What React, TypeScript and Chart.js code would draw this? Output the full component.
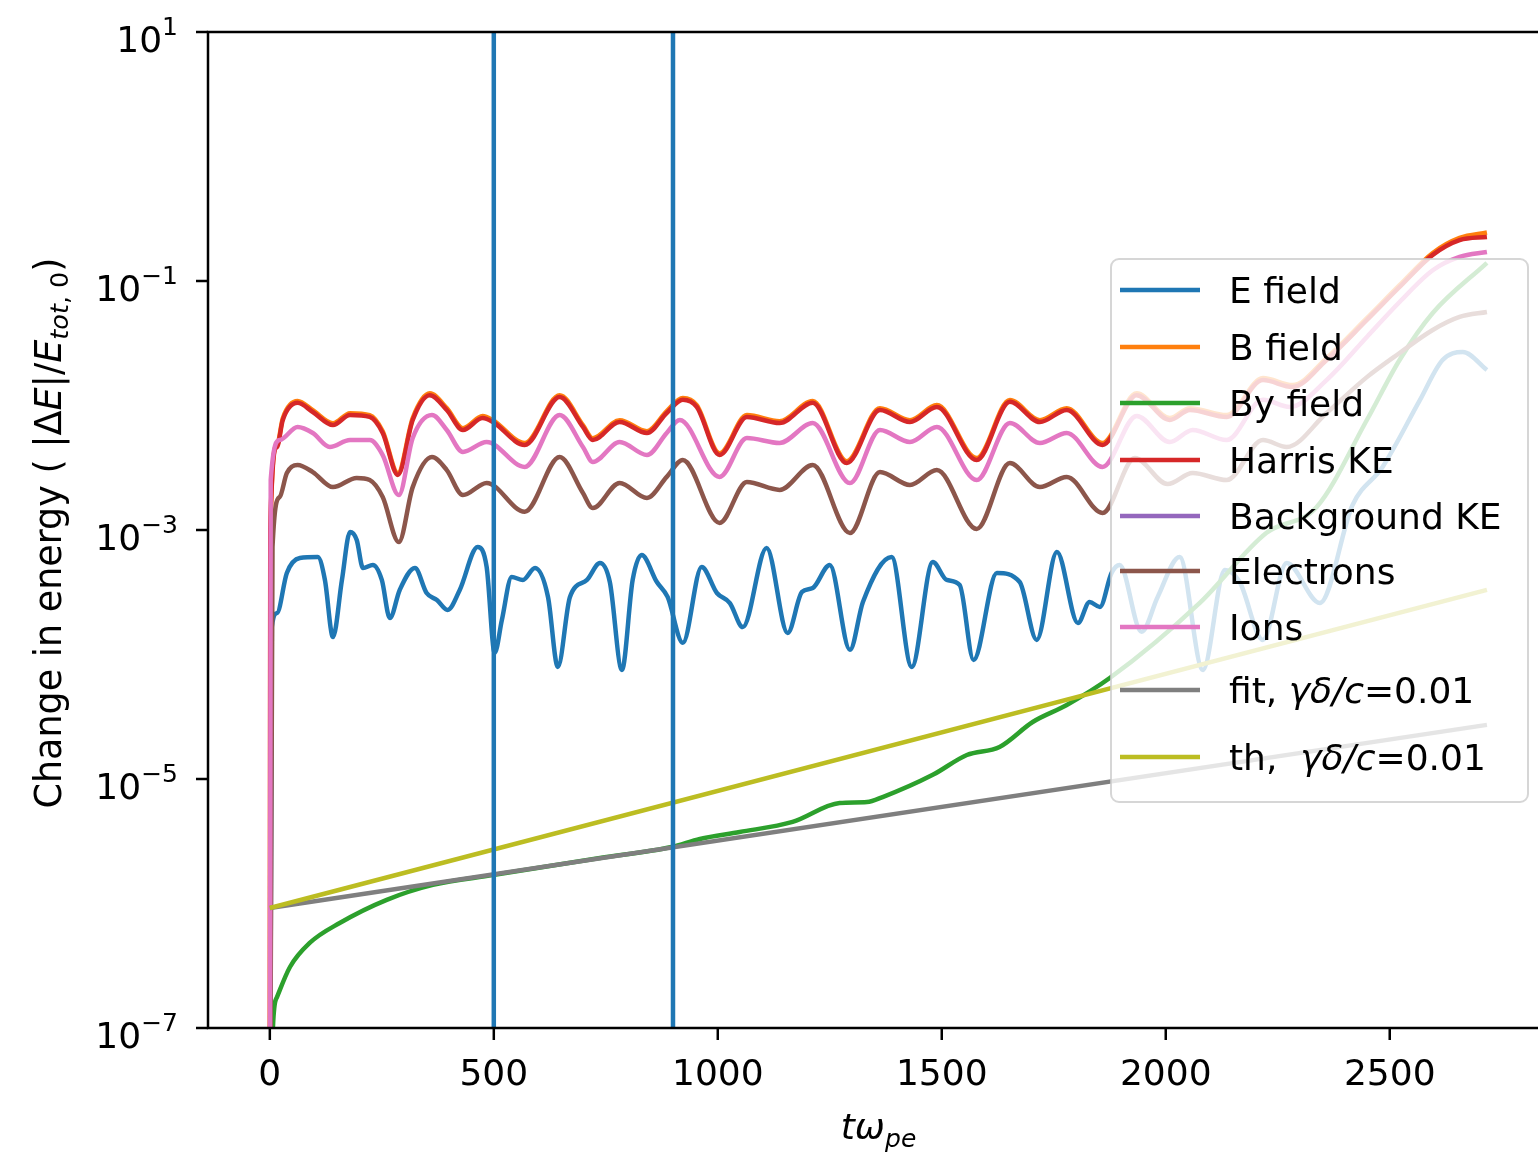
import React, { useEffect, useRef } from "react";
import { Chart, registerables } from "chart.js";

Chart.register(...registerables);

const FONT = '"DejaVu Sans", "Liberation Sans", sans-serif';

// Time axis (t * omega_pe) and relative energy changes of each diagnostic
const tEField = [0, 4.5, 16, 38, 67, 107, 123, 141, 161, 179, 194, 208, 230, 250, 268, 290, 324, 350, 373, 397, 424, 464, 484, 502, 518, 540, 565, 592, 621, 643, 670, 708, 737, 759, 786, 810, 830, 864, 888, 922, 964, 998, 1027, 1056, 1109, 1156, 1188, 1212, 1250, 1295, 1324, 1388, 1433, 1480, 1511, 1540, 1571, 1623, 1674, 1712, 1757, 1804, 1830, 1853, 1879, 1897, 1946, 1982, 2031, 2083, 2132, 2165, 2217, 2270, 2344, 2417, 2484, 2567, 2618, 2663, 2717];
const eField = [1e-9, 1.66e-4, 2.15e-4, 4.52e-4, 5.96e-4, 6.07e-4, 3.97e-4, 1.38e-4, 3.97e-4, 9.64e-4, 8.32e-4, 4.95e-4, 5.24e-4, 3.97e-4, 1.96e-4, 3.3e-4, 4.95e-4, 3.12e-4, 2.74e-4, 2.28e-4, 3.3e-4, 7.3e-4, 5.05e-4, 1.03e-4, 1.89e-4, 4.19e-4, 3.97e-4, 4.95e-4, 2.9e-4, 7.94e-5, 2.9e-4, 3.97e-4, 5.43e-4, 3.82e-4, 7.52e-5, 3.97e-4, 6.3e-4, 3.82e-4, 2.9e-4, 1.24e-4, 5.05e-4, 3.12e-4, 2.59e-4, 1.66e-4, 7.17e-4, 1.49e-4, 3.18e-4, 3.42e-4, 5.24e-4, 1.09e-4, 2.64e-4, 6.07e-4, 7.94e-5, 5.53e-4, 3.97e-4, 3.62e-4, 9.03e-5, 4.52e-4, 3.82e-4, 1.31e-4, 6.66e-4, 1.79e-4, 2.64e-4, 2.41e-4, 4.52e-4, 5.24e-4, 1.52e-4, 2.9e-4, 6.07e-4, 7.52e-5, 4.77e-4, 3.82e-4, 1.31e-4, 5.43e-4, 2.59e-4, 1.59e-3, 3.21e-3, 1.1e-2, 2.32e-2, 2.69e-2, 1.93e-2];

const tHarris = [0, 1, 16, 29, 62, 96, 141, 179, 223, 252, 286, 319, 357, 395, 431, 475, 498, 569, 647, 699, 721, 781, 842, 886, 922, 953, 1004, 1065, 1138, 1212, 1288, 1362, 1429, 1489, 1578, 1652, 1719, 1779, 1859, 1935, 2009, 2054, 2136, 2217, 2283, 2359, 2449, 2522, 2596, 2656, 2717];
const bField = [1e-9, 1.04e-3, 4.8e-3, 7.92e-3, 1.087e-2, 9.18e-3, 7.21e-3, 8.68e-3, 8.37e-3, 6.22e-3, 2.87e-3, 7.92e-3, 1.252e-2, 9.52e-3, 6.58e-3, 8.22e-3, 7.63e-3, 4.99e-3, 1.211e-2, 6.96e-3, 5.46e-3, 7.63e-3, 6.22e-3, 9.01e-3, 1.149e-2, 1.007e-2, 4.14e-3, 8.37e-3, 7.48e-3, 1.087e-2, 3.57e-3, 9.52e-3, 7.63e-3, 1.007e-2, 3.78e-3, 1.107e-2, 7.63e-3, 9.52e-3, 4.99e-3, 1.252e-2, 7.92e-3, 9.52e-3, 8.37e-3, 1.66e-2, 1.46e-2, 2.4e-2, 5.03e-2, 9.26e-2, 0.168, 0.222, 0.245];
const harrisKE = [1e-9, 1.0e-3, 4.64e-3, 7.65e-3, 1.05e-2, 8.87e-3, 6.97e-3, 8.39e-3, 8.09e-3, 6.01e-3, 2.77e-3, 7.65e-3, 1.21e-2, 9.2e-3, 6.36e-3, 7.94e-3, 7.37e-3, 4.82e-3, 1.17e-2, 6.72e-3, 5.28e-3, 7.37e-3, 6.01e-3, 8.71e-3, 1.11e-2, 9.73e-3, 4.0e-3, 8.09e-3, 7.23e-3, 1.05e-2, 3.45e-3, 9.2e-3, 7.37e-3, 9.73e-3, 3.65e-3, 1.07e-2, 7.37e-3, 9.2e-3, 4.82e-3, 1.21e-2, 7.65e-3, 9.2e-3, 8.09e-3, 1.6e-2, 1.41e-2, 2.32e-2, 4.86e-2, 8.95e-2, 0.162, 0.213, 0.226];

const tBy = [0, 7, 16, 45, 89, 156, 261, 364, 498, 737, 897, 960, 1049, 1167, 1272, 1333, 1368, 1480, 1556, 1629, 1703, 1779, 1875, 2076, 2225, 2337, 2449, 2522, 2596, 2717];
const byField = [1e-9, 1.02e-7, 1.77e-7, 3.09e-7, 4.82e-7, 6.97e-7, 1.07e-6, 1.41e-6, 1.69e-6, 2.32e-6, 2.84e-6, 3.3e-6, 3.75e-6, 4.52e-6, 6.41e-6, 6.53e-6, 7.16e-6, 1.08e-5, 1.56e-5, 1.81e-5, 2.87e-5, 3.93e-5, 6.47e-5, 2.6e-4, 9.5e-4, 1.53e-3, 7.65e-3, 2.32e-2, 5.53e-2, 0.14];

const tBackground: number[] = [];
const backgroundKE: number[] = [];

const tElectrons = [0, 6, 22, 38, 62, 96, 141, 194, 223, 252, 288, 319, 362, 395, 431, 484, 569, 647, 699, 721, 781, 842, 886, 922, 1004, 1065, 1138, 1212, 1295, 1362, 1429, 1489, 1578, 1652, 1719, 1779, 1859, 1931, 2004, 2060, 2136, 2217, 2270, 2359, 2449, 2522, 2596, 2656, 2717];
const electrons = [1e-9, 7.3e-4, 1.84e-3, 2.87e-3, 3.33e-3, 2.92e-3, 2.21e-3, 2.62e-3, 2.52e-3, 1.84e-3, 8.0e-4, 2.21e-3, 3.85e-3, 3.03e-3, 1.91e-3, 2.39e-3, 1.4e-3, 3.85e-3, 1.98e-3, 1.5e-3, 2.39e-3, 1.81e-3, 2.67e-3, 3.65e-3, 1.14e-3, 2.43e-3, 2.1e-3, 3.33e-3, 9.46e-4, 2.92e-3, 2.3e-3, 3.03e-3, 1.02e-3, 3.45e-3, 2.21e-3, 2.67e-3, 1.37e-3, 3.78e-3, 2.34e-3, 2.87e-3, 2.52e-3, 5.28e-3, 4.64e-3, 8.71e-3, 1.69e-2, 2.64e-2, 4.04e-2, 5.14e-2, 5.64e-2];

const tIons = [0, 2, 22, 62, 96, 134, 179, 223, 252, 288, 319, 362, 395, 431, 484, 569, 647, 699, 721, 781, 842, 886, 915, 1004, 1065, 1138, 1212, 1295, 1362, 1429, 1489, 1578, 1652, 1719, 1779, 1859, 1935, 2009, 2060, 2136, 2217, 2277, 2359, 2449, 2522, 2596, 2656, 2717];
const ions = [1e-9, 2.52e-3, 5.28e-3, 6.72e-3, 6.01e-3, 4.64e-3, 5.28e-3, 5.28e-3, 4.0e-3, 1.91e-3, 5.48e-3, 8.39e-3, 6.36e-3, 4.24e-3, 5.09e-3, 3.21e-3, 8.39e-3, 4.64e-3, 3.52e-3, 5.09e-3, 4.0e-3, 6.01e-3, 7.65e-3, 2.67e-3, 5.48e-3, 5.0e-3, 7.23e-3, 2.38e-3, 6.36e-3, 5.09e-3, 6.72e-3, 2.52e-3, 7.23e-3, 5.0e-3, 6.01e-3, 3.21e-3, 8.24e-3, 5.09e-3, 6.36e-3, 5.28e-3, 1.11e-2, 9.73e-3, 1.6e-2, 3.55e-2, 6.78e-2, 0.122, 0.156, 0.171];

// Exponential growth: fitted and theoretical rates
const tGrowth = [0, 2717];
const fitGrowth = [9.2e-7, 2.72e-5];
const thGrowth = [9.2e-7, 3.3e-4];

// Vertical markers
const markerTimes = [500, 900];

const xTicks = [0, 500, 1000, 1500, 2000, 2500];
const yTicks = [1e-7, 1e-5, 1e-3, 1e-1, 1e1];
const xRange = [-138, 2831];
const yRange = [1e-7, 10];

const seriesLabels = [
  "E field",
  "B field",
  "By field",
  "Harris KE",
  "Background KE",
  "Electrons",
  "Ions",
  "fit, γδ/c=0.01",
  "th,  γδ/c=0.01",
];
const seriesColors = [
  "#1f77b4",
  "#ff7f0e",
  "#2ca02c",
  "#d62728",
  "#9467bd",
  "#8c564b",
  "#e377c2",
  "#7f7f7f",
  "#bcbd22",
];

const pts = (t: number[], v: number[]) => t.map((x, i) => ({ x, y: v[i] }));

const LINE_W = 4.5;

function drawRich(ctx: CanvasRenderingContext2D, text: string, x: number, baseline: number, size: number) {
  const key = "γδ/c";
  const i = text.indexOf(key);
  const parts: [string, boolean][] =
    i < 0 ? [[text, false]] : [[text.slice(0, i), false], [key, true], [text.slice(i + key.length), false]];
  let cx = x;
  for (const [s, italic] of parts) {
    ctx.font = `${italic ? "italic " : ""}${size}px ${FONT}`;
    ctx.fillText(s, cx, baseline);
    cx += ctx.measureText(s).width;
  }
}

type Seg = { s: string; italic?: boolean; sub?: boolean };

function segWidth(ctx: CanvasRenderingContext2D, segs: Seg[], size: number, subSize: number) {
  let w = 0;
  for (const g of segs) {
    ctx.font = `${g.italic ? "italic " : ""}${g.sub ? subSize : size}px ${FONT}`;
    w += ctx.measureText(g.s).width;
  }
  return w;
}

function drawSegs(ctx: CanvasRenderingContext2D, segs: Seg[], x: number, baseline: number, size: number, subSize: number, subDrop: number) {
  let cx = x;
  for (const g of segs) {
    ctx.font = `${g.italic ? "italic " : ""}${g.sub ? subSize : size}px ${FONT}`;
    ctx.fillText(g.s, cx, baseline + (g.sub ? subDrop : 0));
    cx += ctx.measureText(g.s).width;
  }
}

const axesPlugin = {
  id: "axesFrame",
  afterDraw(chart: any) {
    const { ctx, chartArea: a, scales } = chart;
    const xs = scales.x;
    const ys = scales.y;
    ctx.save();
    ctx.fillStyle = "#000";
    ctx.strokeStyle = "#000";

    // spines
    ctx.lineWidth = 2.5;
    ctx.beginPath();
    ctx.moveTo(a.right, a.top);
    ctx.lineTo(a.left, a.top);
    ctx.lineTo(a.left, a.bottom);
    ctx.lineTo(a.right, a.bottom);
    ctx.stroke();

    // x ticks
    ctx.lineWidth = 2.5;
    ctx.textAlign = "center";
    ctx.textBaseline = "alphabetic";
    ctx.font = `36px ${FONT}`;
    for (const v of xTicks) {
      const px = xs.getPixelForValue(v);
      ctx.beginPath();
      ctx.moveTo(px, a.bottom);
      ctx.lineTo(px, a.bottom + 12);
      ctx.stroke();
      ctx.fillText(String(v), px, a.bottom + 57);
    }

    // y ticks with power-of-ten labels
    ctx.textAlign = "left";
    for (const v of yTicks) {
      const py = ys.getPixelForValue(v);
      ctx.beginPath();
      ctx.moveTo(a.left - 12, py);
      ctx.lineTo(a.left, py);
      ctx.stroke();
      const e = Math.round(Math.log10(v));
      const expStr = e < 0 ? "\u2212" + String(-e) : String(e);
      ctx.font = `36px ${FONT}`;
      const w10 = ctx.measureText("10").width;
      ctx.font = `25px ${FONT}`;
      const wExp = ctx.measureText(expStr).width;
      const x0 = a.left - 30 - (w10 + wExp);
      ctx.font = `36px ${FONT}`;
      ctx.fillText("10", x0, py + 20);
      ctx.font = `25px ${FONT}`;
      ctx.fillText(expStr, x0 + w10, py + 3);
    }

    // x axis title
    const xTitle: Seg[] = [
      { s: "tω", italic: true },
      { s: "pe", italic: true, sub: true },
    ];
    const cx = (a.left + a.right + 11) / 2;
    const xw = segWidth(ctx, xTitle, 36, 25);
    drawSegs(ctx, xTitle, cx - xw / 2, 1139, 36, 25, 8);

    // y axis title
    const yTitle: Seg[] = [
      { s: "Change in energy ( " },
      { s: "|Δ" },
      { s: "E", italic: true },
      { s: "|/" },
      { s: "E", italic: true },
      { s: "tot", italic: true, sub: true },
      { s: ", 0", sub: true },
      { s: ")" },
    ];
    const yw = segWidth(ctx, yTitle, 36.5, 25.5);
    ctx.save();
    ctx.translate(61, (a.top + a.bottom) / 2 + 3);
    ctx.rotate(-Math.PI / 2);
    drawSegs(ctx, yTitle, -yw / 2, 0, 36.5, 25.5, 7);
    ctx.restore();

    // legend
    const lx = 1111;
    const ly = 259;
    const lw = 417;
    const lh = 543;
    ctx.beginPath();
    ctx.roundRect(lx, ly, lw, lh, 8);
    ctx.fillStyle = "rgba(255,255,255,0.8)";
    ctx.fill();
    ctx.lineWidth = 2;
    ctx.strokeStyle = "rgba(204,204,204,0.8)";
    ctx.stroke();

    const rowY = [290, 347, 403, 460, 516, 571, 627, 690, 757];
    ctx.textAlign = "left";
    seriesLabels.forEach((label, i) => {
      const y = rowY[i];
      ctx.strokeStyle = seriesColors[i];
      ctx.lineWidth = LINE_W;
      ctx.beginPath();
      ctx.moveTo(1120, y);
      ctx.lineTo(1200, y);
      ctx.stroke();
      ctx.fillStyle = "#000";
      drawRich(ctx, label, 1229, y + 13, 36);
    });

    ctx.restore();
  },
};

export default function App() {
  const ref = useRef<HTMLCanvasElement | null>(null);

  useEffect(() => {
    document.body.style.margin = "0";
    const canvas = ref.current;
    if (!canvas) return;

    // later series are painted over earlier ones (lower order = drawn on top)
    const curve = (i: number, data: { x: number; y: number }[], smooth = true) => ({
      label: seriesLabels[i],
      data,
      order: 100 - i,
      borderColor: seriesColors[i],
      backgroundColor: seriesColors[i],
      borderWidth: LINE_W,
      pointRadius: 0,
      fill: false,
      cubicInterpolationMode: smooth ? ("monotone" as const) : ("default" as const),
      tension: 0,
    });

    const datasets: any[] = [
      curve(0, pts(tEField, eField)),
      curve(1, pts(tHarris, bField)),
      curve(2, pts(tBy, byField)),
      curve(3, pts(tHarris, harrisKE)),
      curve(4, pts(tBackground, backgroundKE)),
      curve(5, pts(tElectrons, electrons)),
      curve(6, pts(tIons, ions)),
      curve(7, pts(tGrowth, fitGrowth), false),
      curve(8, pts(tGrowth, thGrowth), false),
      ...markerTimes.map((t, k) => ({
        label: `t = ${t}`,
        data: [
          { x: t, y: yRange[0] },
          { x: t, y: yRange[1] },
        ],
        order: 10 - k,
        borderColor: seriesColors[0],
        borderWidth: LINE_W,
        pointRadius: 0,
        fill: false,
      })),
    ];

    const chart = new Chart(canvas, {
      type: "line",
      data: { datasets },
      options: {
        animation: false,
        responsive: false,
        devicePixelRatio: 1,
        events: [],
        layout: { padding: { left: 208, top: 32, right: 0, bottom: 124 } },
        plugins: { legend: { display: false }, tooltip: { enabled: false } },
        scales: {
          x: { type: "linear", display: false, min: xRange[0], max: xRange[1] },
          y: { type: "logarithmic", display: false, min: yRange[0], max: yRange[1] },
        },
      },
      plugins: [axesPlugin],
    });

    return () => chart.destroy();
  }, []);

  return (
    <canvas
      ref={ref}
      width={1538}
      height={1152}
      style={{ position: "fixed", left: 0, top: 0, width: 1538, height: 1152, display: "block", background: "#fff" }}
    />
  );
}
